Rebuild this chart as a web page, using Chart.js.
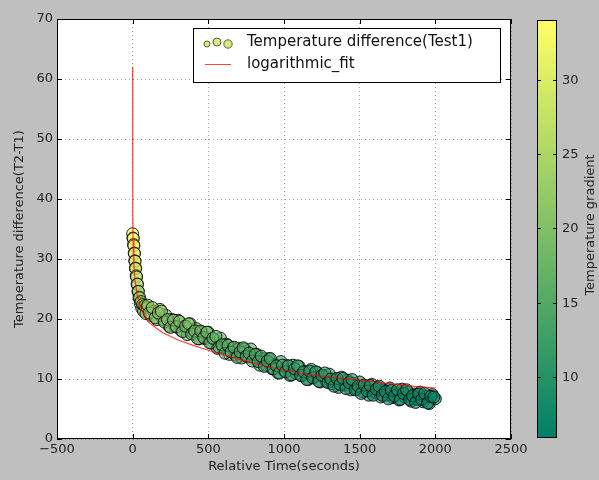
<!DOCTYPE html>
<html>
<head>
<meta charset="utf-8">
<script src="https://cdn.jsdelivr.net/npm/chart.js@4.4.1/dist/chart.umd.min.js"></script>
<style>
  html, body { margin: 0; padding: 0; background: #bfbfbf; }
  #wrap { width: 599px; height: 480px; }
</style>
</head>
<body>
<div id="wrap"><canvas id="tempChart" width="599" height="480"></canvas></div>
<script>
const times = [0, 2, 4, 6, 8, 10, 12, 14, 16, 18, 20, 23, 26, 29, 32, 35, 38, 42, 46, 50,
  55, 60, 66, 72, 80, 88, 96,
  100, 120, 140, 160, 180, 200, 220, 240, 260, 280, 300, 320, 340, 360, 380, 400, 420, 440, 460, 480,
  500, 520, 540, 560, 580, 600, 620, 640, 660, 680, 700, 720, 740, 760, 780, 800, 820, 840, 860, 880,
  900, 920, 940, 960, 980, 1000, 1020, 1040, 1060, 1080, 1100, 1120, 1140, 1160, 1180, 1200, 1220, 1240,
  1260, 1280, 1300, 1320, 1340, 1360, 1380, 1400, 1420, 1440, 1460, 1480, 1500, 1520, 1540, 1560, 1580,
  1600, 1620, 1640, 1660, 1680, 1700, 1720, 1740, 1760, 1780, 1800, 1820, 1840, 1860, 1880, 1900, 1920,
  1940, 1960, 1980, 2000];
const tempDiff = [34.2, 33.5, 33.4, 32.4, 32.2, 31.0, 30.9, 29.7, 29.6, 28.5, 28.4, 27.2, 27.0, 25.8, 25.8, 24.6, 24.6, 23.5, 23.6, 22.6,
  22.9, 21.8, 22.4, 21.3, 22.2, 20.9, 21.9,
  22.3, 20.6, 21.3, 19.9, 21.6, 19.9, 20.6, 18.8, 19.9, 18.7, 19.8, 18.1, 18.8, 17.4, 19.2, 17.7, 18.4, 16.7, 17.8, 16.7,
  17.8, 16.0, 16.6, 15.1, 16.8, 15.2, 15.8, 14.1, 15.2, 14.0, 15.1, 13.5, 15.0, 13.7, 15.0, 13.5, 14.1, 12.3, 13.4, 12.3,
  13.4, 11.7, 12.4, 11.0, 12.9, 11.4, 12.2, 10.6, 12.3, 10.9, 12.1, 10.5, 11.2, 9.9, 11.6, 10.3, 11.1, 9.5,
  10.6, 9.6, 10.8, 9.2, 9.9, 8.6, 10.3, 9.0, 9.8, 8.2, 9.3, 8.3, 9.5, 7.9, 8.7, 7.3, 9.1,
  7.8, 8.6, 7.0, 8.2, 7.3, 8.5, 6.9, 7.7, 6.5, 8.3, 7.0, 7.8, 6.3, 7.5, 6.6, 7.8, 6.2,
  7.1, 5.9, 7.4, 6.7];

// the in-between samples of the same measurement
const timesMid = [110, 130, 150, 170, 190, 210, 230, 250, 270, 290, 310, 330, 350, 370, 390, 410, 430, 450, 470, 490,
  510, 530, 550, 570, 590, 610, 630, 650, 670, 690, 710, 730, 750, 770, 790, 810, 830, 850, 870, 890,
  910, 930, 950, 970, 990, 1010, 1030, 1050, 1070, 1090, 1110, 1130, 1150, 1170, 1190, 1210, 1230, 1250, 1270, 1290,
  1310, 1330, 1350, 1370, 1390, 1410, 1430, 1450, 1470, 1490, 1510, 1530, 1550, 1570, 1590, 1610, 1630, 1650, 1670, 1690,
  1710, 1730, 1750, 1770, 1790, 1810, 1830, 1850, 1870, 1890, 1910, 1930, 1950, 1970, 1990];
const tempDiffMid = [21.0, 21.9, 20.2, 21.0, 21.3, 19.5, 19.9, 18.6, 19.8, 18.7, 19.6, 17.9, 18.8, 19.2, 17.5, 18.0, 16.7, 18.0, 16.9, 17.8,
  16.0, 16.8, 17.1, 15.3, 15.7, 14.3, 15.6, 14.5, 15.3, 13.6, 14.5, 15.2, 13.8, 14.3, 13.0, 14.1, 12.9, 13.8, 12.1, 13.0,
  13.4, 11.7, 12.2, 11.0, 12.3, 11.2, 12.2, 10.7, 11.7, 12.2, 10.6, 11.2, 9.9, 11.3, 10.2, 11.2, 9.6, 10.6, 11.0, 9.4,
  10.0, 8.8, 10.1, 9.1, 10.1, 8.4, 9.4, 9.9, 8.2, 8.8, 7.6, 9.0, 8.0, 8.9, 7.3, 8.3, 8.8, 7.3, 7.9, 6.7,
  8.1, 7.2, 8.2, 6.6, 7.6, 8.2, 6.6, 7.2, 6.1, 7.5, 6.6, 7.6, 6.0, 7.1, 7.0];

// logarithmic fit curve
const fitTimes = [0, 0.3, 1, 3, 8, 15, 30, 60, 100, 150, 200, 300, 400, 500, 700, 900, 1100, 1300, 1500, 1700, 1900, 2000];
const fitValues = [62, 45, 38, 33, 29, 26.5, 24, 21.5, 19.6, 18.6, 17.7, 16.5, 15.6, 14.8, 13.3, 12.0, 11.0, 10.3, 9.8, 9.2, 8.7, 8.5];

const xTicks = [-500, 0, 500, 1000, 1500, 2000, 2500];
const yTicks = [0, 10, 20, 30, 40, 50, 60, 70];
const cbTicks = [10, 15, 20, 25, 30];
const cbMin = 5.9;
const cbMax = 34;

const FONT = 'DejaVu Sans';

// matplotlib "summer" colormap
function summer(v, alpha) {
  let t = (v - cbMin) / (cbMax - cbMin);
  t = Math.max(0, Math.min(1, t));
  const r = Math.round(255 * t);
  const g = Math.round(255 * (0.5 + 0.5 * t));
  return `rgba(${r},${g},102,${alpha})`;
}

const allTimes = times.concat(timesMid);
const allTemps = tempDiff.concat(tempDiffMid);
const scatterData = allTimes.map((t, i) => ({ x: t, y: allTemps[i] }));
const fitData = fitTimes.map((t, i) => ({ x: t, y: fitValues[i] }));

const minus = v => String(v).replace('-', '\u2212');

const figurePlugin = {
  id: 'figure',
  beforeDraw(chart) {
    const { ctx, chartArea: a } = chart;
    ctx.save();
    ctx.fillStyle = '#bfbfbf';
    ctx.fillRect(0, 0, chart.width, chart.height);
    ctx.fillStyle = '#ffffff';
    ctx.fillRect(a.left, a.top, a.right - a.left, a.bottom - a.top);
    ctx.restore();
  },
  afterDraw(chart) {
    const { ctx, chartArea: a, scales } = chart;
    ctx.save();
    // frame
    ctx.strokeStyle = '#000';
    ctx.lineWidth = 1;
    ctx.strokeRect(a.left + 0.5, a.top + 0.5, a.right - a.left - 1, a.bottom - a.top - 1);
    // inward ticks on all sides
    ctx.beginPath();
    xTicks.forEach(v => {
      const px = Math.round(scales.x.getPixelForValue(v)) + 0.5;
      ctx.moveTo(px, a.bottom); ctx.lineTo(px, a.bottom - 5);
      ctx.moveTo(px, a.top); ctx.lineTo(px, a.top + 5);
    });
    yTicks.forEach(v => {
      const py = Math.round(scales.y.getPixelForValue(v)) + 0.5;
      ctx.moveTo(a.left, py); ctx.lineTo(a.left + 5, py);
      ctx.moveTo(a.right, py); ctx.lineTo(a.right - 5, py);
    });
    ctx.stroke();

    // colorbar
    const cbL = 537, cbR = 557, cbT = 20, cbB = 438;
    const grad = ctx.createLinearGradient(0, cbB, 0, cbT);
    grad.addColorStop(0, summer(cbMin, 1));
    grad.addColorStop(1, summer(cbMax, 1));
    ctx.fillStyle = grad;
    ctx.fillRect(cbL, cbT, cbR - cbL, cbB - cbT);
    ctx.strokeStyle = '#000';
    ctx.strokeRect(cbL + 0.5, cbT + 0.5, cbR - cbL - 1, cbB - cbT - 1);
    ctx.fillStyle = '#222';
    ctx.font = `13px "${FONT}"`;
    ctx.textAlign = 'left';
    ctx.textBaseline = 'middle';
    ctx.beginPath();
    cbTicks.forEach(v => {
      const py = Math.round(cbB - (v - cbMin) / (cbMax - cbMin) * (cbB - cbT)) + 0.5;
      ctx.moveTo(cbL, py); ctx.lineTo(cbL + 4, py);
      ctx.moveTo(cbR, py); ctx.lineTo(cbR - 4, py);
      ctx.fillText(String(v), cbR + 5, py);
    });
    ctx.stroke();
    ctx.save();
    ctx.translate(591, (cbT + cbB) / 2 - 4);
    ctx.rotate(-Math.PI / 2);
    ctx.textAlign = 'center';
    ctx.fillText('Temperature gradient', 0, 0);
    ctx.restore();

    // legend
    const lx = 193, ly = 28, lw = 307, lh = 54;
    ctx.fillStyle = '#fff';
    ctx.fillRect(lx, ly, lw, lh);
    ctx.strokeStyle = '#000';
    ctx.strokeRect(lx + 0.5, ly + 0.5, lw, lh);
    [[207, 44, 3], [217, 42, 4], [228, 44, 4.2]].forEach(([cx, cy, r]) => {
      ctx.beginPath();
      ctx.arc(cx, cy, r, 0, Math.PI * 2);
      ctx.fillStyle = summer(29, 0.85);
      ctx.fill();
      ctx.strokeStyle = 'rgba(0,0,0,0.6)';
      ctx.stroke();
    });
    ctx.beginPath();
    ctx.strokeStyle = 'rgba(255,0,0,0.75)';
    ctx.moveTo(205, 64.5); ctx.lineTo(231, 64.5);
    ctx.stroke();
    ctx.fillStyle = '#111';
    ctx.font = `15px "${FONT}"`;
    ctx.textAlign = 'left';
    ctx.fillText('Temperature difference(Test1)', 247, 42);
    ctx.fillText('logarithmic_fit', 247, 64);
    ctx.restore();
  }
};

new Chart(document.getElementById('tempChart'), {
  type: 'scatter',
  data: {
    datasets: [
      {
        label: 'logarithmic_fit',
        data: fitData,
        showLine: true,
        borderColor: 'rgba(255,0,0,0.75)',
        borderWidth: 1.2,
        pointRadius: 0,
        tension: 0,
        order: 0
      },
      {
        label: 'Temperature difference(Test1)',
        data: scatterData,
        pointRadius: 6,
        pointBackgroundColor: allTemps.map(v => summer(v, 0.6)),
        pointBorderColor: 'rgba(0,0,0,0.85)',
        pointBorderWidth: 1,
        order: 1
      }
    ]
  },
  options: {
    responsive: false,
    animation: false,
    layout: { padding: { left: 0, right: 88, top: 19, bottom: 0 } },
    plugins: {
      legend: { display: false },
      tooltip: { enabled: false }
    },
    scales: {
      x: {
        type: 'linear',
        min: -500,
        max: 2500,
        afterBuildTicks: s => { s.ticks = xTicks.map(v => ({ value: v })); },
        afterFit: s => { s.height = 41; },
        ticks: {
          font: { family: FONT, size: 13 },
          color: '#222',
          padding: 3,
          maxRotation: 0,
          callback: v => minus(v)
        },
        grid: { color: 'rgba(0,0,0,0.35)', drawTicks: false, lineWidth: 1 },
        border: { display: false, dash: [1, 3] },
        title: {
          display: true,
          text: 'Relative Time(seconds)',
          font: { family: FONT, size: 13 },
          color: '#222',
          padding: { top: 0, bottom: 6 }
        }
      },
      y: {
        type: 'linear',
        min: 0,
        max: 70,
        afterBuildTicks: s => { s.ticks = yTicks.map(v => ({ value: v })); },
        afterFit: s => { s.width = 57; },
        ticks: {
          font: { family: FONT, size: 13 },
          color: '#222',
          padding: 4
        },
        grid: { color: 'rgba(0,0,0,0.35)', drawTicks: false, lineWidth: 1 },
        border: { display: false, dash: [1, 3] },
        title: {
          display: true,
          text: 'Temperature difference(T2-T1)',
          font: { family: FONT, size: 13 },
          color: '#222',
          padding: { top: 12, bottom: 0 }
        }
      }
    }
  },
  plugins: [figurePlugin]
});
</script>
</body>
</html>
